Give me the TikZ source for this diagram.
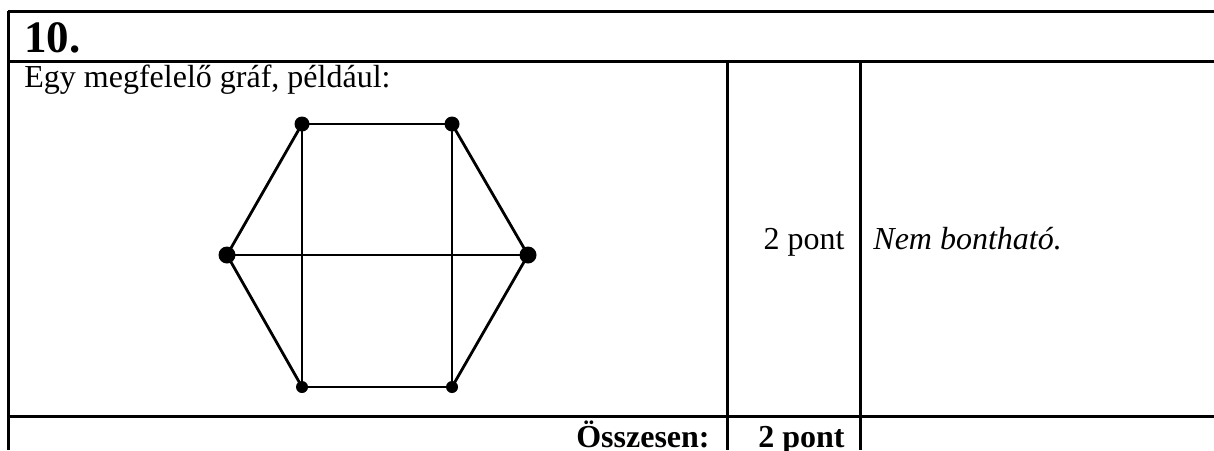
\documentclass[tikz,border=0pt]{standalone}
\usepackage{fontspec}
\setmainfont{Liberation Serif}
\usepackage{tikz}
\tikzstyle{rule} = [line width=1.5pt]
\tikzstyle{edge} = [line width=1.4pt]
\tikzstyle{dot} = [
    circle,
    fill=black,
    inner sep=0pt
]
\tikzstyle{celltext} = [
    inner sep=0pt,
    font=\fontsize{16}{19}\selectfont
]

\begin{document}
\begin{tikzpicture}[x=0.5pt, y=-0.5pt]

\useasboundingbox (0,0) rectangle (1214,450);

% table frame
\coordinate (topL) at (8,11);
\coordinate (topR) at (1214,11);
\coordinate (headL) at (8,61);
\coordinate (headR) at (1214,61);
\coordinate (sumL) at (8,416);
\coordinate (sumR) at (1214,416);
\coordinate (botL) at (8,450);
\coordinate (colAtop) at (727,61);
\coordinate (colAbot) at (727,450);
\coordinate (colBtop) at (860,61);
\coordinate (colBbot) at (860,450);

\draw [rule] (topL) -- (topR);
\draw [rule] (headL) -- (headR);
\draw [rule] (sumL) -- (sumR);
\draw [rule] (topL) -- (botL);
\draw [rule] (colAtop) -- (colAbot);
\draw [rule] (colBtop) -- (colBbot);

% texts
\node (title) [celltext, anchor=base west, font=\fontsize{22.5}{26}\selectfont\bfseries]
    at (24,52) {10.};
\node (intro) [celltext, anchor=base west] at (24,87)
    {Egy megfelelő gráf, például:};
\node (points) [celltext, anchor=base east] at (845,249) {2 pont};
\node (note) [celltext, anchor=base west] at (873,249)
    {\itshape Nem bontható.};
\node (total) [celltext, anchor=base east, font=\fontsize{16}{19}\selectfont\bfseries]
    at (710,447) {Összesen:};
\node (totalpts) [celltext, anchor=base east, font=\fontsize{16}{19}\selectfont\bfseries]
    at (845,447) {2 pont};

% graph
\node (tl) [dot, minimum size=7.5pt] at (302,124) {};
\node (tr) [dot, minimum size=7.5pt] at (452,124) {};
\node (l) [dot, minimum size=8.5pt] at (227,255) {};
\node (r) [dot, minimum size=8.5pt] at (528,255) {};
\node (bl) [dot, minimum size=6pt] at (302,387) {};
\node (br) [dot, minimum size=6pt] at (452,387) {};

\draw [edge] (tl.center) -- (tr.center);
\draw [edge] (tr.center) -- (r.center);
\draw [edge] (r.center) -- (br.center);
\draw [edge] (br.center) -- (bl.center);
\draw [edge] (bl.center) -- (l.center);
\draw [edge] (l.center) -- (tl.center);
\draw [edge] (tl.center) -- (bl.center);
\draw [edge] (tr.center) -- (br.center);
\draw [edge] (l.center) -- (r.center);

\end{tikzpicture}
\end{document}
